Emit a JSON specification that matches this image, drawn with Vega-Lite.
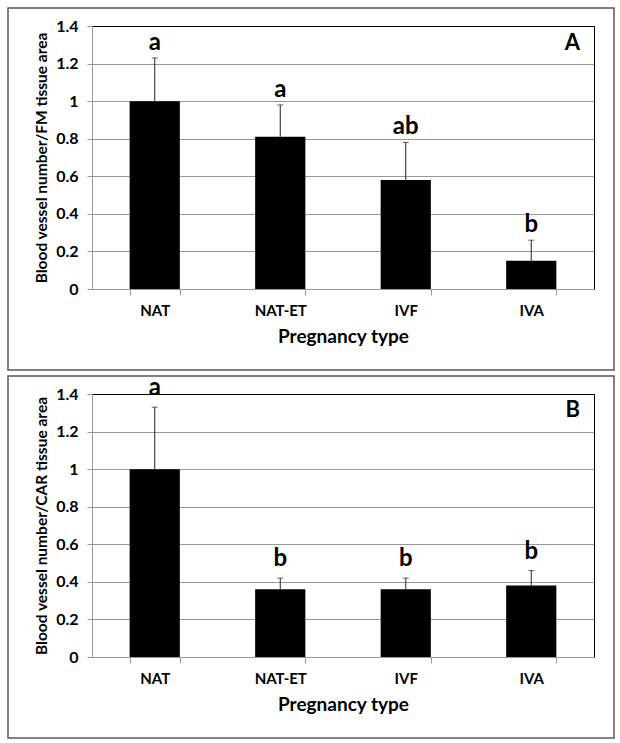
{
  "$schema": "https://vega.github.io/schema/vega-lite/v6.json",
  "padding": {"left": 7, "top": 7, "right": 0, "bottom": 0},
  "background": "white",
  "spacing": 4,
  "datasets": {
    "fm": [
      {"type": "NAT", "mean": 1.0, "upper": 1.23, "letter": "a"},
      {"type": "NAT-ET", "mean": 0.81, "upper": 0.98, "letter": "a"},
      {"type": "IVF", "mean": 0.58, "upper": 0.78, "letter": "ab"},
      {"type": "IVA", "mean": 0.15, "upper": 0.26, "letter": "b"}
    ],
    "car": [
      {"type": "NAT", "mean": 1.0, "upper": 1.33, "letter": "a"},
      {"type": "NAT-ET", "mean": 0.36, "upper": 0.42, "letter": "b"},
      {"type": "IVF", "mean": 0.36, "upper": 0.42, "letter": "b"},
      {"type": "IVA", "mean": 0.38, "upper": 0.46, "letter": "b"}
    ]
  },
  "config": {
    "view": {"stroke": "#595959", "strokeWidth": 1.5},
    "font": "Lato"
  },
  "vconcat": [
    {
      "width": 606,
      "height": 362,
      "data": {"name": "fm"},
      "title": {"text": "A", "orient": "top", "anchor": "end", "frame": "group", "font": "Lato", "fontSize": 22, "fontWeight": "bold", "color": "black", "offset": -64, "baseline": "alphabetic", "dx": -34},
      "layer": [
        {
          "mark": {"type": "bar", "color": "black"},
          "encoding": {
            "x": {"field": "type", "type": "nominal", "sort": null,
              "scale": {"range": [84, 586], "paddingInner": 0.6, "paddingOuter": 0.3},
              "axis": {"orient": "bottom", "offset": -81, "tickBand": "extent", "tickSize": 6, "tickColor": "#999", "domainColor": "#999", "labelAngle": 0, "labelFont": "Lato", "labelFontWeight": "bold", "labelFontSize": 15, "labelColor": "black", "labelPadding": 8, "title": "Pregnancy type", "titleFont": "Lato", "titleFontWeight": "bold", "titleFontSize": 19, "titleColor": "black", "titlePadding": 9}},
            "y": {"field": "mean", "type": "quantitative",
              "scale": {"domain": [0, 1.4], "range": [281, 18], "nice": false, "zero": true},
              "axis": {"orient": "left", "offset": -84, "values": [0, 0.2, 0.4, 0.6, 0.8, 1, 1.2, 1.4], "format": "~g", "grid": true, "gridColor": "#999", "gridWidth": 1, "domainColor": "#999", "tickColor": "#999", "tickSize": 5, "labelFont": "Lato", "labelFontWeight": "bold", "labelFontSize": 16, "labelColor": "black", "labelPadding": 9, "title": "Blood vessel number/FM tissue area", "titleFont": "Lato", "titleFontWeight": "bold", "titleFontSize": 15.5, "titleColor": "black", "titlePadding": 6}}
          }
        },
        {
          "mark": {"type": "rule", "color": "#222", "strokeWidth": 1},
          "encoding": {
            "x": {"field": "type", "type": "nominal", "sort": null,
              "axis": {"orient": "top", "offset": -18, "domainColor": "black", "ticks": false, "labels": false, "grid": false, "title": null}},
            "y": {"field": "mean", "type": "quantitative",
              "axis": {"orient": "right", "offset": -20, "domainColor": "black", "ticks": false, "labels": false, "grid": false, "title": null}},
            "y2": {"field": "upper"}
          }
        },
        {
          "mark": {"type": "tick", "orient": "horizontal", "size": 6, "thickness": 1, "color": "#222"},
          "encoding": {
            "x": {"field": "type", "type": "nominal", "sort": null, "axis": null},
            "y": {"field": "upper", "type": "quantitative", "axis": null}
          }
        },
        {
          "mark": {"type": "text", "font": "Lato", "fontSize": 24, "fontWeight": "bold", "color": "black", "baseline": "alphabetic", "dy": -8},
          "encoding": {
            "x": {"field": "type", "type": "nominal", "sort": null, "axis": null},
            "y": {"field": "upper", "type": "quantitative", "axis": null},
            "text": {"field": "letter"}
          }
        }
      ],
      "resolve": {"axis": {"x": "independent", "y": "independent"}}
    },
    {
      "width": 606,
      "height": 362,
      "data": {"name": "car"},
      "title": {"text": "B", "orient": "top", "anchor": "end", "frame": "group", "font": "Lato", "fontSize": 22, "fontWeight": "bold", "color": "black", "offset": -63, "baseline": "alphabetic", "dx": -34},
      "layer": [
        {
          "mark": {"type": "bar", "color": "black"},
          "encoding": {
            "x": {"field": "type", "type": "nominal", "sort": null,
              "scale": {"range": [84, 586], "paddingInner": 0.6, "paddingOuter": 0.3},
              "axis": {"orient": "bottom", "offset": -81, "tickBand": "extent", "tickSize": 6, "tickColor": "#999", "domainColor": "#999", "labelAngle": 0, "labelFont": "Lato", "labelFontWeight": "bold", "labelFontSize": 15, "labelColor": "black", "labelPadding": 8, "title": "Pregnancy type", "titleFont": "Lato", "titleFontWeight": "bold", "titleFontSize": 19, "titleColor": "black", "titlePadding": 9}},
            "y": {"field": "mean", "type": "quantitative",
              "scale": {"domain": [0, 1.4], "range": [281, 18], "nice": false, "zero": true},
              "axis": {"orient": "left", "offset": -84, "values": [0, 0.2, 0.4, 0.6, 0.8, 1, 1.2, 1.4], "format": "~g", "grid": true, "gridColor": "#999", "gridWidth": 1, "domainColor": "#999", "tickColor": "#999", "tickSize": 5, "labelFont": "Lato", "labelFontWeight": "bold", "labelFontSize": 16, "labelColor": "black", "labelPadding": 9, "title": "Blood vessel number/CAR tissue area", "titleFont": "Lato", "titleFontWeight": "bold", "titleFontSize": 15.5, "titleColor": "black", "titlePadding": 6}}
          }
        },
        {
          "mark": {"type": "rule", "color": "#222", "strokeWidth": 1},
          "encoding": {
            "x": {"field": "type", "type": "nominal", "sort": null,
              "axis": {"orient": "top", "offset": -18, "domainColor": "black", "ticks": false, "labels": false, "grid": false, "title": null}},
            "y": {"field": "mean", "type": "quantitative",
              "axis": {"orient": "right", "offset": -20, "domainColor": "black", "ticks": false, "labels": false, "grid": false, "title": null}},
            "y2": {"field": "upper"}
          }
        },
        {
          "mark": {"type": "tick", "orient": "horizontal", "size": 6, "thickness": 1, "color": "#222"},
          "encoding": {
            "x": {"field": "type", "type": "nominal", "sort": null, "axis": null},
            "y": {"field": "upper", "type": "quantitative", "axis": null}
          }
        },
        {
          "mark": {"type": "text", "font": "Lato", "fontSize": 24, "fontWeight": "bold", "color": "black", "baseline": "alphabetic", "dy": -12},
          "encoding": {
            "x": {"field": "type", "type": "nominal", "sort": null, "axis": null},
            "y": {"field": "upper", "type": "quantitative", "axis": null},
            "text": {"field": "letter"}
          }
        }
      ],
      "resolve": {"axis": {"x": "independent", "y": "independent"}}
    }
  ]
}
